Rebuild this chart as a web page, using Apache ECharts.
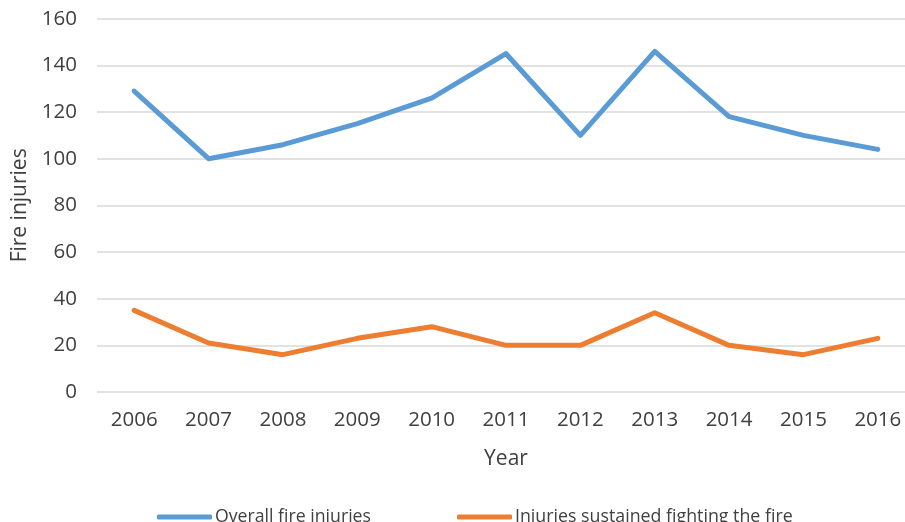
<!DOCTYPE html>
<html>
<head>
<meta charset="utf-8">
<script src="https://cdn.jsdelivr.net/npm/echarts@6/dist/echarts.min.js"></script>
<style>
html,body{margin:0;padding:0;background:#fff;}
#c{width:905px;height:522px;}
</style>
</head>
<body>
<div id="c"></div>
<script>
const years = ['2006','2007','2008','2009','2010','2011','2012','2013','2014','2015','2016'];
const overallInjuries = [129, 100, 106, 115, 126, 145, 110, 146, 118, 110, 104];
const fightingInjuries = [35, 21, 16, 23, 28, 20, 20, 34, 20, 16, 23];
const yTicks = [0, 20, 40, 60, 80, 100, 120, 140, 160];
const seriesNames = ['Overall fire injuries', 'Injuries sustained fighting the fire'];

const FONT = '"Open Sans", "Liberation Sans", sans-serif';
const chart = echarts.init(document.getElementById('c'), null, {renderer: 'canvas'});
chart.setOption({
  animation: false,
  backgroundColor: '#ffffff',
  grid: {left: 97, width: 818, top: 18.7, height: 373.3, containLabel: false, outerBoundsMode: 'none'},
  xAxis: {
    type: 'category',
    data: years,
    boundaryGap: true,
    name: 'Year',
    nameLocation: 'middle',
    nameGap: 57,
    nameTextStyle: {fontFamily: FONT, fontSize: 21, color: '#404040'},
    axisLine: {show: false},
    axisTick: {show: false},
    axisLabel: {fontFamily: FONT, fontSize: 20.5, color: '#404040', margin: 18}
  },
  yAxis: {
    type: 'value',
    min: yTicks[0],
    max: yTicks[yTicks.length - 1],
    interval: 20,
    name: 'Fire injuries',
    nameLocation: 'middle',
    nameGap: 66,
    nameTextStyle: {fontFamily: FONT, fontSize: 21, color: '#404040'},
    axisLine: {show: false},
    axisTick: {show: false},
    axisLabel: {fontFamily: FONT, fontSize: 20.5, color: '#404040', margin: 20},
    splitLine: {lineStyle: {color: '#d9d9d9', width: 1.5}}
  },
  legend: [
    {
      data: [seriesNames[0]], left: 157, top: 507, padding: 0,
      icon: 'roundRect', itemWidth: 55, itemHeight: 5, itemGap: 0,
      textStyle: {fontFamily: FONT, fontSize: 17.7, color: '#404040', lineHeight: 20, padding: [0,0,0,-2]}
    },
    {
      data: [seriesNames[1]], left: 457, top: 507, padding: 0,
      icon: 'roundRect', itemWidth: 55, itemHeight: 5, itemGap: 0,
      textStyle: {fontFamily: FONT, fontSize: 17.8, color: '#404040', lineHeight: 20, padding: [0,0,0,-2]}
    }
  ],
  series: [
    {
      name: seriesNames[0], type: 'line', data: overallInjuries,
      showSymbol: false, symbol: 'none',
      lineStyle: {color: '#5B9BD5', width: 5, cap: 'round', join: 'round'},
      itemStyle: {color: '#5B9BD5'}
    },
    {
      name: seriesNames[1], type: 'line', data: fightingInjuries,
      showSymbol: false, symbol: 'none',
      lineStyle: {color: '#ED7D31', width: 5, cap: 'round', join: 'round'},
      itemStyle: {color: '#ED7D31'}
    }
  ]
});
</script>
</body>
</html>
